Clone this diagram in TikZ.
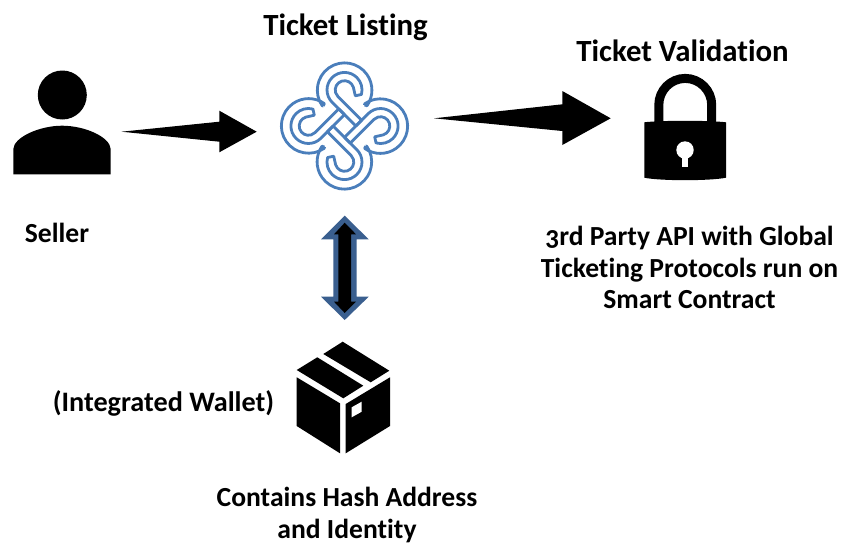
\documentclass[tikz,border=0pt]{standalone}
\usepackage{fontspec}
\setmainfont{Carlito}[Numbers=OldStyle,Ligatures=NoCommon]
\definecolor{knotblue}{HTML}{4A7EBB}
\definecolor{arrowblue}{HTML}{3A5F8F}
\tikzset{
  lbl/.style={inner sep=0pt,font=\bfseries\fontsize{27.6}{31.5}\selectfont,align=center},
  ttl/.style={inner sep=0pt,font=\bfseries\fontsize{30.8}{31}\selectfont,align=center},
  knotline/.style={draw=knotblue,line width=2.8pt,line join=round},
  solid black/.style={fill=black,draw=none}
}
\begin{document}
\begin{tikzpicture}[x=1pt,y=-1pt]
\useasboundingbox (0,0) rectangle (843,544);
% person
\fill[solid black] (62.3,95) circle[radius=24.5pt];
\fill[solid black] (13.3,174.3) -- (13.3,149) .. controls (14,137) and (40,125.7) .. (62,125.7) .. controls (85,125.7) and (110,137) .. (110.7,149) -- (110.7,174.3) -- cycle;
% arrows
\fill[solid black] (121.5,131.7) -- (219.3,121.7) -- (219.3,110.7) -- (256.7,131.7) -- (219.3,152.3) -- (219.3,141.7) -- cycle;
\fill[solid black] (434,118.3) -- (562.3,104.3) -- (562.3,91) -- (610.7,118.3) -- (562.3,145) -- (562.3,131) -- cycle;
% knot
\foreach \r in {0,90,180,270}{
\begin{scope}[shift={(344.5,126)},x=1pt,y=1pt,rotate=\r,scale=1.03]
  \draw[knotline] (-20.5,19.5) -- (-21.6,19.6) arc[start angle=215,end angle=-35,radius=26.5pt] -- (19.5,20.5);
  \draw[knotline] (8.6,37.6) arc[start angle=17,end angle=225,radius=9pt] -- (16.6,5.6) -- (11,0) -- (-12,23) arc[start angle=225,end angle=-15,radius=17pt] -- (10.5,29.3) -- cycle;
\end{scope}}
% double arrow
\fill[arrowblue] (344.7,215.7) -- (368.7,239.3) -- (356.7,239.3) -- (356.7,296.7) -- (368.7,296.7) -- (344.7,320) -- (321,296.7) -- (333.3,296.7) -- (333.3,239.3) -- (321,239.3) -- cycle;
\fill[solid black] (344.7,222.7) -- (356,234.3) -- (351,234.3) -- (351,301.7) -- (356,301.7) -- (344.7,313) -- (334,301.7) -- (338.3,301.7) -- (338.3,234.3) -- (334,234.3) -- cycle;
% lock
\draw[black,line width=9pt] (658.8,125) -- (658.8,105) .. controls (658.8,90.4) and (670.6,78.4) .. (685.2,78.4) .. controls (699.8,78.4) and (711.7,90.4) .. (711.7,105) -- (711.7,125);
\fill[solid black] (644.3,122.3) .. controls (660,120.3) and (710,120.3) .. (726,122.3) -- (726,177.7) .. controls (710,181) and (660,181) .. (644.3,177.7) -- cycle;
\fill[white] (685,150) circle[radius=8.7pt];
\fill[white] (682,150) rectangle (688,166.7);
% box
\fill[solid black] (342.7,341.7) -- (389.3,370.7) -- (370.7,382.3) -- (323.3,354) -- cycle;
\fill[solid black] (317.3,357.3) -- (363.3,385.7) -- (343.3,398.3) -- (296.7,370) -- cycle;
\fill[solid black] (296.7,377.3) -- (340,403.3) -- (340,453.3) -- (296.7,426) -- cycle;
\fill[solid black] (390,377.3) -- (345.7,404) -- (345.7,453.3) -- (390,426) -- cycle;
\fill[white] (351.7,407.3) -- (361.7,401.7) -- (361.7,411.7) -- (351.7,417.3) -- cycle;
% text
\node[ttl] (listing) at (345.5,27.5) {Ticket Listing};
\node[ttl] (validation) at (682.5,51) {Ticket Validation};
\node[lbl] (seller) at (57,233) {Seller};
\node[lbl] (api) at (689.5,267.5) {3rd Party API with Global\\Ticketing Protocols run on\\Smart Contract};
\node[lbl,font=\bfseries\fontsize{28.2}{31.5}\selectfont] (wallet) at (163.5,403) {(Integrated Wallet)};
\node[lbl] (hash) at (347,515) {Contains Hash Address\\and Identity};
\end{tikzpicture}
\end{document}
